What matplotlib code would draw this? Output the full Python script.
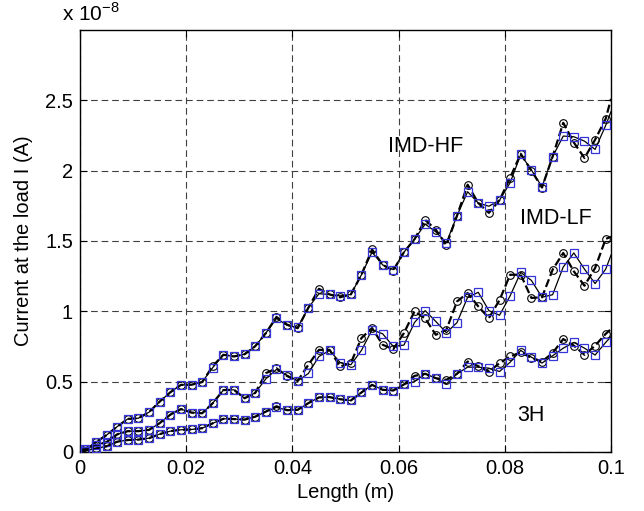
import numpy as np
import matplotlib.pyplot as plt

plt.rcParams['font.family'] = ['Liberation Sans', 'DejaVu Sans']
plt.rcParams['mathtext.fontset'] = 'custom'
plt.rcParams['mathtext.rm'] = 'Liberation Sans'

# marker positions (m); lines also start at 0 and end at 0.1
x_marks = np.arange(50) * 0.002 + 0.001
x = np.concatenate(([0.0], x_marks, [0.1]))

# current values in units of 1e-8 A (first = x 0, last = x 0.1)
hf_sq = [0, 0.01, 0.07, 0.12, 0.18, 0.235, 0.24, 0.283, 0.358, 0.424, 0.477,
         0.478, 0.497, 0.60, 0.691, 0.679, 0.695, 0.752, 0.845, 0.95, 0.90,
         0.885, 1.025, 1.125, 1.12, 1.11, 1.12, 1.26, 1.42, 1.33, 1.296,
         1.42, 1.513, 1.62, 1.565, 1.488, 1.68, 1.85, 1.77, 1.747, 1.79,
         1.914, 2.115, 2.005, 1.885, 2.099, 2.246, 2.241, 2.21, 2.151, 2.322, 2.42]
hf_circ = [0, 0.01, 0.07, 0.12, 0.18, 0.235, 0.24, 0.283, 0.358, 0.424, 0.477,
           0.478, 0.497, 0.61, 0.691, 0.679, 0.695, 0.752, 0.845, 0.96, 0.905,
           0.88, 1.025, 1.16, 1.12, 1.10, 1.12, 1.26, 1.44, 1.33, 1.29,
           1.42, 1.513, 1.65, 1.58, 1.47, 1.68, 1.90, 1.77, 1.70, 1.79,
           1.95, 2.12, 2.0, 1.88, 2.10, 2.34, 2.20, 2.09, 2.22, 2.37, 2.51]

lf_sq = [0, 0.02, 0.05, 0.07, 0.125, 0.148, 0.148, 0.157, 0.205, 0.265, 0.305,
         0.28, 0.275, 0.347, 0.44, 0.442, 0.382, 0.42, 0.52, 0.587, 0.545,
         0.505, 0.558, 0.679, 0.722, 0.636, 0.62, 0.722, 0.869, 0.84, 0.75,
         0.76, 0.921, 1.005, 0.928, 0.848, 0.92, 1.10, 1.135, 1.005, 0.972,
         1.11, 1.277, 1.22, 1.10, 1.118, 1.315, 1.415, 1.30, 1.197, 1.30, 1.40]
lf_circ = [0, 0.02, 0.05, 0.07, 0.125, 0.148, 0.148, 0.157, 0.205, 0.265, 0.305,
           0.28, 0.275, 0.347, 0.44, 0.442, 0.382, 0.42, 0.56, 0.595, 0.54,
           0.505, 0.62, 0.726, 0.726, 0.608, 0.632, 0.81, 0.881, 0.762, 0.731,
           0.845, 1.0, 0.95, 0.833, 0.869, 1.07, 1.13, 1.035, 0.952, 1.08,
           1.26, 1.26, 1.095, 1.10, 1.296, 1.415, 1.284, 1.182, 1.308, 1.515, 1.53]

h3_sq = [0, 0.01, 0.025, 0.04, 0.073, 0.085, 0.088, 0.098, 0.127, 0.148, 0.158,
         0.16, 0.169, 0.204, 0.236, 0.234, 0.23, 0.251, 0.287, 0.317, 0.297,
         0.30, 0.347, 0.388, 0.39, 0.375, 0.366, 0.423, 0.477, 0.442, 0.437,
         0.48, 0.50, 0.556, 0.525, 0.484, 0.556, 0.603, 0.603, 0.596, 0.572,
         0.638, 0.722, 0.674, 0.632, 0.684, 0.738, 0.779, 0.738, 0.689, 0.779, 0.82]
h3_circ = [0, 0.01, 0.025, 0.04, 0.073, 0.085, 0.088, 0.098, 0.127, 0.148, 0.158,
           0.16, 0.169, 0.204, 0.236, 0.234, 0.23, 0.251, 0.287, 0.325, 0.297,
           0.30, 0.347, 0.388, 0.39, 0.375, 0.366, 0.423, 0.477, 0.442, 0.437,
           0.48, 0.541, 0.556, 0.525, 0.513, 0.556, 0.643, 0.61, 0.57, 0.632,
           0.679, 0.708, 0.67, 0.643, 0.703, 0.803, 0.756, 0.691, 0.756, 0.84, 0.874]

x_ticks = [0, 0.02, 0.04, 0.06, 0.08, 0.1]
x_tick_labels = ['0', '0.02', '0.04', '0.06', '0.08', '0.1']
y_ticks = [0, 0.5, 1, 1.5, 2, 2.5]
y_tick_labels = ['0', '0.5', '1', '1.5', '2', '2.5']

fig = plt.figure(figsize=(6.44, 5.11), dpi=100)
ax = fig.add_axes([0.1242, 0.1155, 0.8246, 0.8258])

marks = list(range(1, 51))
for yc, ys in [(hf_circ, hf_sq), (lf_circ, lf_sq), (h3_circ, h3_sq)]:
    ax.plot(x, yc, color='k', ls='--', lw=1.6, marker='o', ms=5.5,
            mfc='none', mec='k', mew=0.8, markevery=marks, zorder=3)
    ax.plot(x, ys, color='k', ls='-', lw=0.9, marker='s', ms=5.5,
            mfc='none', mec='#3434d8', mew=0.9, markevery=marks, zorder=4)

ax.set_xlim(0, 0.1)
ax.set_ylim(0, 3)
ax.set_xticks(x_ticks)
ax.set_xticklabels(x_tick_labels)
ax.set_yticks(y_ticks)
ax.set_yticklabels(y_tick_labels)
ax.tick_params(direction='in', top=True, right=True, length=5, labelsize=14.5, pad=5)
ax.grid(True, color='0.25', ls=(0, (6, 3.5)), lw=0.8)
for s in ax.spines.values():
    s.set_linewidth(1.0)

ax.set_xlabel('Length (m)', fontsize=14.5, labelpad=4)
ax.set_ylabel('Current at the load I (A)', fontsize=14.5, labelpad=9)
ax.text(-0.034, 1.012, r'x 10$^{-8}$', transform=ax.transAxes, fontsize=15,
        ha='left', va='bottom')

ax.text(0.0651, 2.17, 'IMD-HF', fontsize=15.5, ha='center', va='center')
ax.text(0.0896, 1.66, 'IMD-LF', fontsize=15.5, ha='center', va='center')
ax.text(0.0850, 0.26, '3H', fontsize=15.5, ha='center', va='center')

fig.savefig('out.png', dpi=100)
